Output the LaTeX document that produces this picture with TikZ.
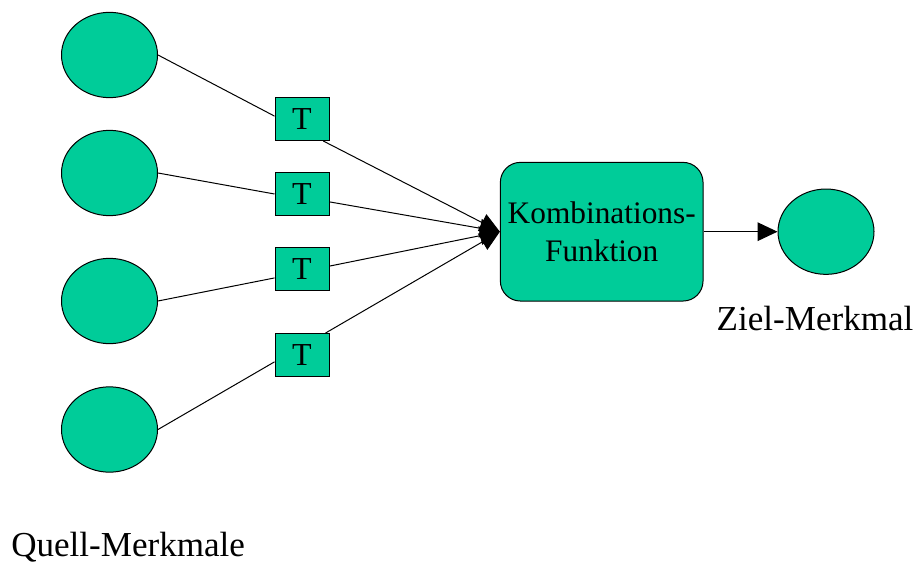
\documentclass[tikz,border=0pt]{standalone}
\usepackage{fontspec}
\setmainfont{Liberation Serif}
\usetikzlibrary{arrows.meta,shapes.geometric}
\definecolor{merkmal}{RGB}{0,204,153}
\tikzset{
  feature/.style={ellipse,draw=black,line width=0.75pt,fill=merkmal,
    minimum width=72pt,minimum height=64pt,inner sep=0pt},
  transform/.style={rectangle,draw=black,line width=0.75pt,fill=merkmal,
    minimum width=40.5pt,minimum height=32.25pt,inner sep=0pt,
    font=\fontsize{24}{28}\selectfont},
  combine/.style={rectangle,rounded corners=15pt,draw=black,line width=0.75pt,
    fill=merkmal,minimum width=152pt,minimum height=104pt,inner sep=0pt,
    align=center,font=\fontsize{23.5}{29}\selectfont},
  caption/.style={inner sep=0pt,font=\fontsize{26.3}{30}\selectfont},
  link/.style={line width=0.75pt},
  flow/.style={line width=0.75pt,-{Triangle[length=15pt,width=14pt]}}
}
\begin{document}
\begin{tikzpicture}[x=0.75pt,y=-0.75pt]
\useasboundingbox (0,0) rectangle (917,563);

% source features
\node[feature] (e1) at (109.5,55) {};
\node[feature] (e2) at (109.5,173) {};
\node[feature] (e3) at (109.5,301) {};
\node[feature] (e4) at (109.5,429.5) {};

% per-feature transformations
\node[transform] (t1) at (302,119) {T};
\node[transform] (t2) at (302,194) {T};
\node[transform] (t3) at (302,269) {T};
\node[transform] (t4) at (302,355) {T};

% combination and target feature
\node[combine] (comb) at (601.7,231.7) {Kombinations-\\Funktion};
\node[feature] (goal) at (826,231.7) {};

% labels
\node[caption,anchor=base] (zl) at (815,330) {Ziel-Merkmal};
\node[caption,anchor=base west] (ql) at (11,556) {Quell-Merkmale};

% features into transformations
\draw[link] (e1.east) -- (t1.174);
\draw[link] (e2.east) -- (t2.west);
\draw[link] (e3.east) -- (t3.198);
\draw[link] (e4.east) -- (t4.194);

% transformations into the combination
\draw[flow] (t1.-46) -- (comb.west);
\draw[flow] (t2.-16) -- (comb.west);
\draw[flow] (t3.6) -- (comb.west);
\draw[flow] (t4.43) -- (comb.west);

% combination result
\draw[flow] (comb.east) -- (goal.west);
\end{tikzpicture}
\end{document}
